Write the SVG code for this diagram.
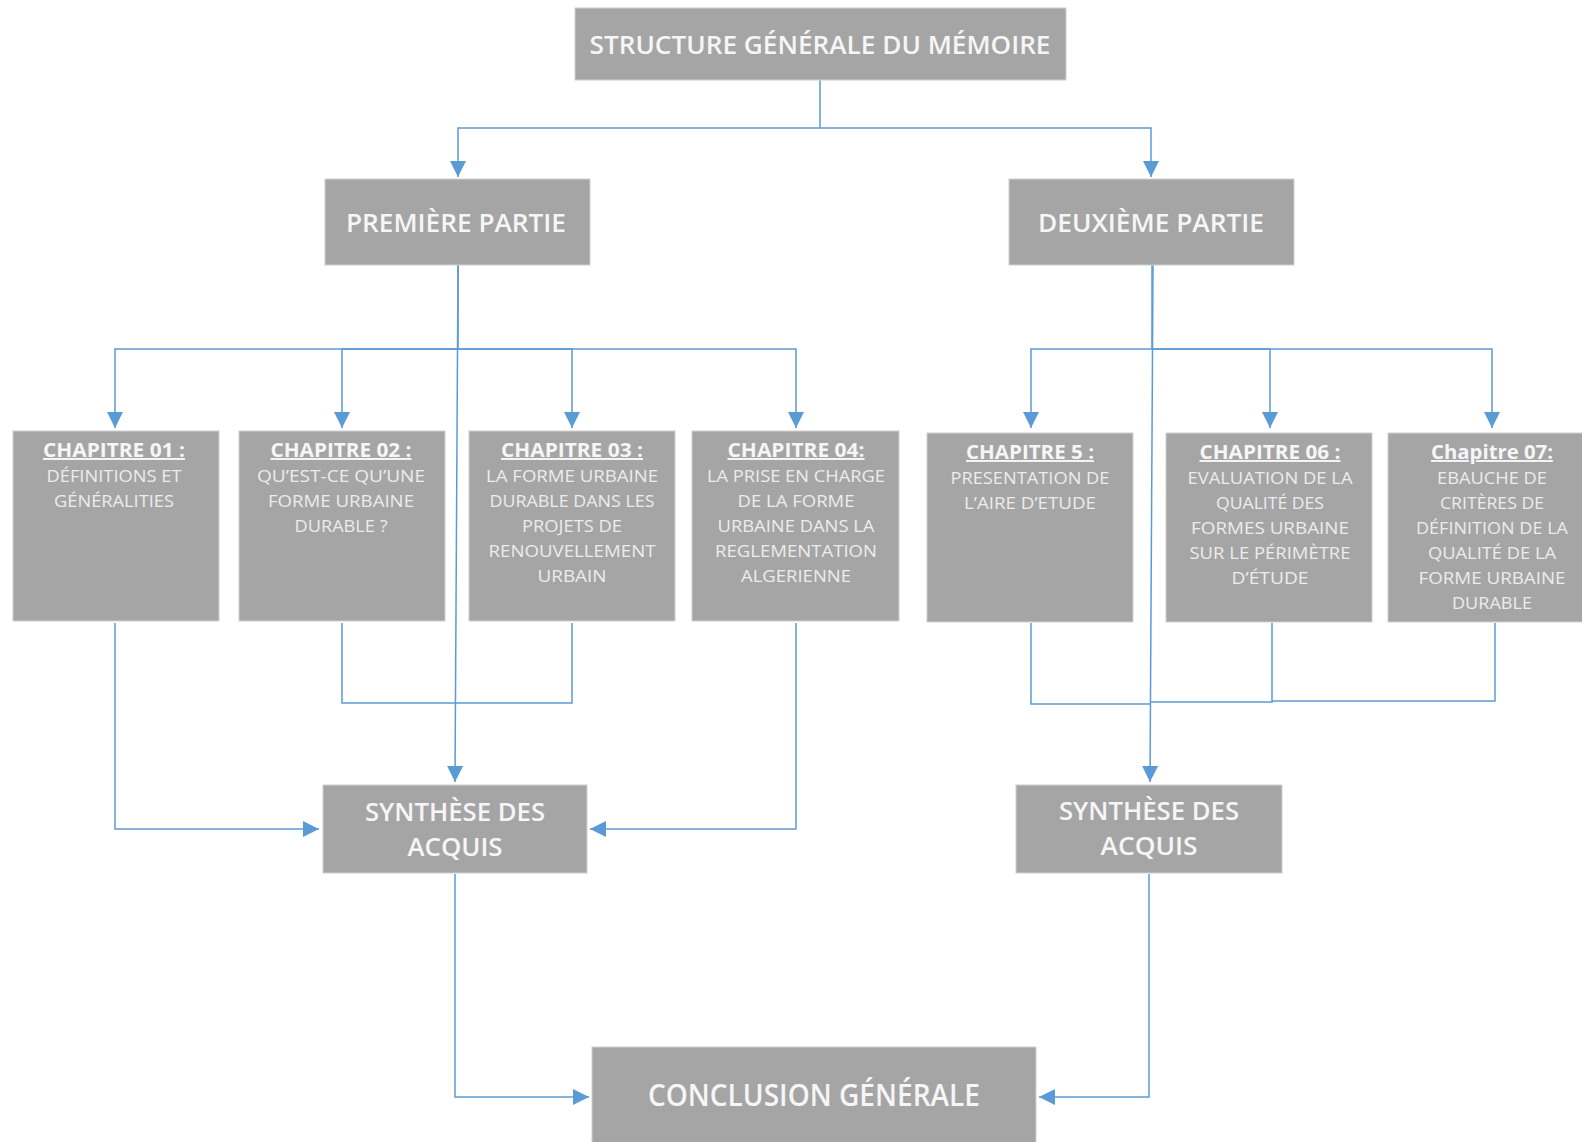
<svg xmlns="http://www.w3.org/2000/svg" width="1582" height="1142" viewBox="0 0 1582 1142">
  <defs>
    <marker id="ah" viewBox="0 0 16 16" refX="16" refY="8" markerWidth="16" markerHeight="16" markerUnits="userSpaceOnUse" orient="auto">
      <path d="M0,0 L16,8 L0,16 z" fill="#5b9bd5"/>
    </marker>
    <style>
      .box{fill:#a5a5a5;stroke:#cfcfcf;stroke-width:1}
      .t{font-family:"Open Sans","Liberation Sans",sans-serif;fill:#f6f6f6;text-anchor:middle}
      .big{font-size:26px;font-weight:600}
      .ch{font-size:19.5px;font-weight:700;text-decoration:underline}
      .b{font-size:17px;font-weight:400;fill:#ececec}
      .c{fill:none;stroke:#5b9bd5;stroke-width:1.5}
      .a{marker-end:url(#ah)}
    </style>
  </defs>
  <rect width="1582" height="1142" fill="#ffffff"/>

  <!-- connectors -->
  <g id="connectors">
    <path class="c a" d="M820,80 V128 H458 V177"/>
    <path class="c a" d="M820,128 H1151 V177"/>

    <path class="c a" d="M458,265 V349 H115 V428"/>
    <path class="c a" d="M458,349 H342 V428"/>
    <path class="c a" d="M458,349 H572 V428"/>
    <path class="c a" d="M458,349 H796 V428"/>
    <path class="c a" d="M458,265 L455,782"/>

    <path class="c a" d="M115,623 V829 H319"/>
    <path class="c" d="M342,623 V703 H455"/>
    <path class="c" d="M572,623 V703 H455"/>
    <path class="c a" d="M796,623 V829 H590"/>
    <path class="c a" d="M455,874 V1097 H589"/>

    <path class="c a" d="M1152,265 V349 H1031 V428"/>
    <path class="c a" d="M1152,349 H1270 V428"/>
    <path class="c a" d="M1152,349 H1492 V428"/>
    <path class="c a" d="M1153,265 L1150,782"/>

    <path class="c" d="M1031,623 V704 H1150"/>
    <path class="c" d="M1272,623 V702 H1150"/>
    <path class="c" d="M1495,623 V701 H1272"/>
    <path class="c a" d="M1149,874 V1097 H1039"/>
  </g>

  <!-- title -->
  <g id="structure">
    <rect class="box" x="575" y="8" width="491" height="72"/>
    <text class="t big" x="820" y="54" style="font-size:25.5px" textLength="461" lengthAdjust="spacingAndGlyphs">STRUCTURE GÉNÉRALE DU MÉMOIRE</text>
  </g>

  <g id="partie1">
    <rect class="box" x="325" y="179" width="265" height="86"/>
    <text class="t big" x="456" y="232" textLength="220" lengthAdjust="spacingAndGlyphs">PREMIÈRE PARTIE</text>
  </g>

  <g id="partie2">
    <rect class="box" x="1009" y="179" width="285" height="86"/>
    <text class="t big" x="1151" y="232" textLength="226" lengthAdjust="spacingAndGlyphs">DEUXIÈME PARTIE</text>
  </g>

  <!-- chapters, first part -->
  <g id="ch01">
    <rect class="box" x="13" y="431" width="206" height="190"/>
    <text class="t ch" x="114" y="457" textLength="142" lengthAdjust="spacingAndGlyphs">CHAPITRE 01 :</text>
    <text class="t b" x="114" y="482" textLength="135" lengthAdjust="spacingAndGlyphs">DÉFINITIONS ET</text>
    <text class="t b" x="114" y="507" textLength="120" lengthAdjust="spacingAndGlyphs">GÉNÉRALITIES</text>
  </g>

  <g id="ch02">
    <rect class="box" x="239" y="431" width="206" height="190"/>
    <text class="t ch" x="341" y="457" textLength="141" lengthAdjust="spacingAndGlyphs">CHAPITRE 02 :</text>
    <text class="t b" x="341" y="482" textLength="168" lengthAdjust="spacingAndGlyphs">QU’EST-CE QU’UNE</text>
    <text class="t b" x="341" y="507" textLength="146" lengthAdjust="spacingAndGlyphs">FORME URBAINE</text>
    <text class="t b" x="341" y="532" textLength="93" lengthAdjust="spacingAndGlyphs">DURABLE ?</text>
  </g>

  <g id="ch03">
    <rect class="box" x="469" y="431" width="206" height="190"/>
    <text class="t ch" x="572" y="457" textLength="142" lengthAdjust="spacingAndGlyphs">CHAPITRE 03 :</text>
    <text class="t b" x="572" y="482" textLength="172" lengthAdjust="spacingAndGlyphs">LA FORME URBAINE</text>
    <text class="t b" x="572" y="507" textLength="165" lengthAdjust="spacingAndGlyphs">DURABLE DANS LES</text>
    <text class="t b" x="572" y="532" textLength="100" lengthAdjust="spacingAndGlyphs">PROJETS DE</text>
    <text class="t b" x="572" y="557" textLength="167" lengthAdjust="spacingAndGlyphs">RENOUVELLEMENT</text>
    <text class="t b" x="572" y="582" textLength="69" lengthAdjust="spacingAndGlyphs">URBAIN</text>
  </g>

  <g id="ch04">
    <rect class="box" x="692" y="431" width="207" height="190"/>
    <text class="t ch" x="796" y="457" textLength="137" lengthAdjust="spacingAndGlyphs">CHAPITRE 04:</text>
    <text class="t b" x="796" y="482" textLength="178" lengthAdjust="spacingAndGlyphs">LA PRISE EN CHARGE</text>
    <text class="t b" x="796" y="507" textLength="117" lengthAdjust="spacingAndGlyphs">DE LA FORME</text>
    <text class="t b" x="796" y="532" textLength="157" lengthAdjust="spacingAndGlyphs">URBAINE DANS LA</text>
    <text class="t b" x="796" y="557" textLength="162" lengthAdjust="spacingAndGlyphs">REGLEMENTATION</text>
    <text class="t b" x="796" y="582" textLength="110" lengthAdjust="spacingAndGlyphs">ALGERIENNE</text>
  </g>

  <!-- chapters, second part -->
  <g id="ch05">
    <rect class="box" x="927" y="433" width="206" height="189"/>
    <text class="t ch" x="1030" y="459" textLength="128" lengthAdjust="spacingAndGlyphs">CHAPITRE 5 :</text>
    <text class="t b" x="1030" y="484" textLength="159" lengthAdjust="spacingAndGlyphs">PRESENTATION DE</text>
    <text class="t b" x="1030" y="509" textLength="132" lengthAdjust="spacingAndGlyphs">L’AIRE D’ETUDE</text>
  </g>

  <g id="ch06">
    <rect class="box" x="1166" y="433" width="206" height="189"/>
    <text class="t ch" x="1270" y="459" textLength="141" lengthAdjust="spacingAndGlyphs">CHAPITRE 06 :</text>
    <text class="t b" x="1270" y="484" textLength="165" lengthAdjust="spacingAndGlyphs">EVALUATION DE LA</text>
    <text class="t b" x="1270" y="509" textLength="108" lengthAdjust="spacingAndGlyphs">QUALITÉ DES</text>
    <text class="t b" x="1270" y="534" textLength="158" lengthAdjust="spacingAndGlyphs">FORMES URBAINE</text>
    <text class="t b" x="1270" y="559" textLength="161" lengthAdjust="spacingAndGlyphs">SUR LE PÉRIMÈTRE</text>
    <text class="t b" x="1270" y="584" textLength="77" lengthAdjust="spacingAndGlyphs">D’ÉTUDE</text>
  </g>

  <g id="ch07">
    <rect class="box" x="1388" y="433" width="208" height="189"/>
    <text class="t ch" x="1492" y="459" textLength="122" lengthAdjust="spacingAndGlyphs">Chapitre 07:</text>
    <text class="t b" x="1492" y="484" textLength="110" lengthAdjust="spacingAndGlyphs">EBAUCHE DE</text>
    <text class="t b" x="1492" y="509" textLength="104" lengthAdjust="spacingAndGlyphs">CRITÈRES DE</text>
    <text class="t b" x="1492" y="534" textLength="152" lengthAdjust="spacingAndGlyphs">DÉFINITION DE LA</text>
    <text class="t b" x="1492" y="559" textLength="128" lengthAdjust="spacingAndGlyphs">QUALITÉ DE LA</text>
    <text class="t b" x="1492" y="584" textLength="147" lengthAdjust="spacingAndGlyphs">FORME URBAINE</text>
    <text class="t b" x="1492" y="609" textLength="80" lengthAdjust="spacingAndGlyphs">DURABLE</text>
  </g>

  <!-- syntheses -->
  <g id="synthese1">
    <rect class="box" x="323" y="785" width="264" height="88"/>
    <text class="t big" x="455" y="821" textLength="180" lengthAdjust="spacingAndGlyphs">SYNTHÈSE DES</text>
    <text class="t big" x="455" y="856" textLength="95" lengthAdjust="spacingAndGlyphs">ACQUIS</text>
  </g>

  <g id="synthese2">
    <rect class="box" x="1016" y="785" width="266" height="88"/>
    <text class="t big" x="1149" y="820" textLength="180" lengthAdjust="spacingAndGlyphs">SYNTHÈSE DES</text>
    <text class="t big" x="1149" y="855" textLength="97" lengthAdjust="spacingAndGlyphs">ACQUIS</text>
  </g>

  <g id="conclusion">
    <rect class="box" x="592" y="1047" width="444" height="100"/>
    <text class="t big" x="814" y="1106" style="font-size:31px" textLength="332" lengthAdjust="spacingAndGlyphs">CONCLUSION GÉNÉRALE</text>
  </g>
</svg>
